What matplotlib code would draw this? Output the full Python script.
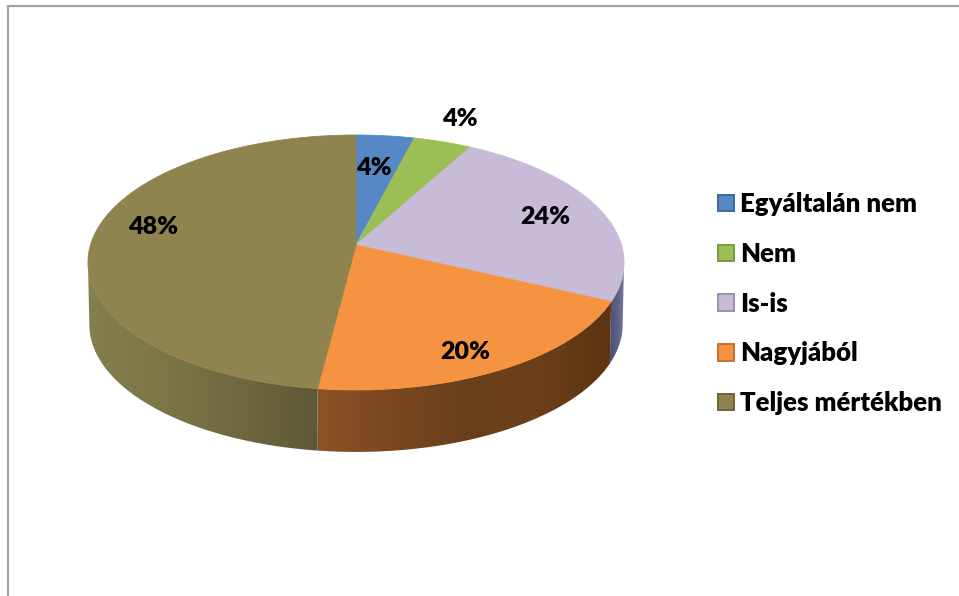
import numpy as np
import matplotlib
matplotlib.use("Agg")
import matplotlib.pyplot as plt
from matplotlib.colors import LinearSegmentedColormap
from matplotlib.patches import Patch, Polygon

labels = ["Egyáltalán nem", "Nem", "Is-is", "Nagyjából", "Teljes mértékben"]
values = [4, 4, 24, 20, 48]
pct_labels = ["4%", "4%", "24%", "20%", "48%"]

colors = ["#5688c8", "#9bbf55", "#c7bbd8", "#f59340", "#8f8450"]
edges = ["#3f6aa0", "#7a9a40", "#9c90ae", "#c87030", "#6e6538"]
# side wall shading, left to right
side_colors = {
    2: ["#4d4f78", "#5e6088", "#7a7ca0"],
    3: ["#8c5329", "#7a4720", "#69401c", "#6c3f19", "#5c3412"],
    4: ["#857e4e", "#7c7546", "#6f6840", "#5d5836"],
}
label_pos = [(374, 168), (460, 119), (545, 217), (465, 352), (153, 227)]

# perspective of the tilted disc, in pixels
cx, cy = 356, 245
k, p, r = 265.5, -91.5, 0.137
depth = 62
shrink = 0.995


def project(theta, lower=False):
    x, y = np.sin(theta), np.cos(theta)
    d = 1 + r * y
    sx = k * x / d
    sy = (p * y + cy) / d
    if lower:
        return cx + sx * shrink, sy + depth
    return cx + sx, sy


fig = plt.figure(figsize=(9.59, 5.96), dpi=100)
ax = fig.add_axes([0, 0, 1, 1])
ax.axis("off")
plt.rcParams["font.family"] = ["Lato", "DejaVu Sans"]

# chart frame
ax.plot([8, 8, 959], [596, 6, 6], color="#a3a3a3", lw=1.6, solid_joinstyle="miter")

fracs = np.cumsum([0] + values) / sum(values)
angles = 2 * np.pi * fracs

# only the front of the wall shows, between the widest points of the disc
grid = np.linspace(0, 2 * np.pi, 3600)
gx = project(grid)[0]
front_start, front_end = grid[gx.argmax()], grid[gx.argmin()]

# side walls first
for i in side_colors:
    t0, t1 = max(angles[i], front_start), min(angles[i + 1], front_end)
    t = np.linspace(t0, t1, 200)
    ux, uy = project(t)
    lx, ly = project(t, lower=True)
    verts = np.column_stack([np.r_[ux, lx[::-1]], np.r_[uy, ly[::-1]]])
    clip = Polygon(verts, closed=True, facecolor="none", edgecolor="none")
    ax.add_patch(clip)
    cmap = LinearSegmentedColormap.from_list(f"side{i}", side_colors[i])
    x0, x1 = verts[:, 0].min(), verts[:, 0].max()
    im = ax.imshow(np.linspace(0, 1, 256).reshape(1, -1), cmap=cmap, aspect="auto",
                   extent=[x0, x1, verts[:, 1].max(), verts[:, 1].min()], zorder=1)
    im.set_clip_path(clip)

# top of the disc
for i in range(len(values)):
    t = np.linspace(angles[i], angles[i + 1], 200)
    ux, uy = project(t)
    verts = np.column_stack([np.r_[cx, ux], np.r_[cy, uy]])
    ax.add_patch(Polygon(verts, closed=True, facecolor=colors[i], edgecolor=colors[i],
                         lw=0.6, zorder=2))

for txt, (x, y) in zip(pct_labels, label_pos):
    ax.text(x, y, txt, ha="center", va="center", fontsize=18, fontweight=800,
            color="black", zorder=3)

handles = [Patch(facecolor=c, edgecolor=e, lw=1.4) for c, e in zip(colors, edges)]
ax.legend(handles, labels, loc="center left", bbox_to_anchor=(718 / 959, 1 - 303.6 / 596),
          frameon=False, prop={"weight": 800, "size": 18.5, "family": "Lato"},
          handlelength=0.62, handleheight=0.62, handletextpad=0.25,
          labelspacing=1.0, borderpad=0, borderaxespad=0)

ax.set_xlim(0, 959)
ax.set_ylim(596, 0)
fig.savefig("out.png", dpi=100)
